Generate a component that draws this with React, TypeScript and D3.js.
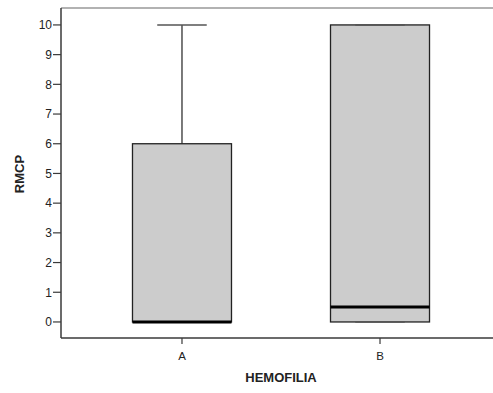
import React from "react";
import * as d3 from "d3";

// Box-plot summary per hemophilia group
const categories = ["A", "B"];
const minValues = [0, 0];
const q1Values = [0, 0];
const medianValues = [0, 0.5];
const q3Values = [6, 10];
const maxValues = [10, 10];
const yTicks = [0, 1, 2, 3, 4, 5, 6, 7, 8, 9, 10];

const W = 493;
const H = 393;
const left = 61;
const top = 8;
const bottom = 338;
const rightEdge = 501;

export default function App() {
  const y = d3.scaleLinear().domain([-0.54, 10.57]).range([bottom, top]);
  const x = d3.scalePoint<string>().domain(categories).range([left, rightEdge]).padding(0.611);
  const step = x.step();
  const boxW = step * 0.5;
  const capW = boxW * 0.5;
  const font = "'Liberation Sans', Arial, sans-serif";
  const axisColor = "#3a3a3a";

  return (
    <svg width={W} height={H} style={{ position: "absolute", left: 0, top: 0, background: "#fff" }}>
      {/* frame */}
      <line x1={left} x2={W} y1={top} y2={top} stroke="#999" strokeWidth={1.5} />
      <line x1={left} x2={left} y1={top} y2={bottom} stroke={axisColor} strokeWidth={1.5} />
      <line x1={left} x2={W} y1={bottom} y2={bottom} stroke={axisColor} strokeWidth={1.5} />

      {/* y axis ticks */}
      {yTicks.map((t) => (
        <g key={t}>
          <line x1={left - 8} x2={left} y1={y(t)} y2={y(t)} stroke={axisColor} strokeWidth={1.2} />
          <text x={left - 9} y={y(t)} dy="0.36em" textAnchor="end" fontFamily={font} fontSize={12} fill="#222">
            {t}
          </text>
        </g>
      ))}

      {/* x axis ticks */}
      {categories.map((c) => (
        <g key={c}>
          <line x1={x(c)} x2={x(c)} y1={bottom} y2={bottom + 6} stroke={axisColor} strokeWidth={1.2} />
          <text x={x(c)} y={360} textAnchor="middle" fontFamily={font} fontSize={11.5} fill="#222">
            {c}
          </text>
        </g>
      ))}

      {/* boxes */}
      {categories.map((c, i) => {
        const cx = x(c) as number;
        return (
          <g key={c}>
            <line x1={cx} x2={cx} y1={y(maxValues[i])} y2={y(q3Values[i])} stroke="#222" strokeWidth={1.2} />
            <line x1={cx} x2={cx} y1={y(minValues[i])} y2={y(q1Values[i])} stroke="#222" strokeWidth={1.2} />
            <rect
              x={cx - boxW / 2}
              y={y(q3Values[i])}
              width={boxW}
              height={y(q1Values[i]) - y(q3Values[i])}
              fill="#cccccc"
              stroke="#222"
              strokeWidth={1.3}
            />
            <line x1={cx - capW / 2} x2={cx + capW / 2} y1={y(maxValues[i])} y2={y(maxValues[i])} stroke="#555" strokeWidth={1.5} />
            <line x1={cx - capW / 2} x2={cx + capW / 2} y1={y(minValues[i])} y2={y(minValues[i])} stroke="#555" strokeWidth={1.5} />
            <line
              x1={cx - boxW / 2}
              x2={cx + boxW / 2}
              y1={y(medianValues[i])}
              y2={y(medianValues[i])}
              stroke="#000"
              strokeWidth={3}
            />
          </g>
        );
      })}

      {/* axis titles */}
      <text
        transform={`translate(24, 174) rotate(-90)`}
        textAnchor="middle"
        fontFamily={font}
        fontWeight="bold"
        fontSize={13}
        fill="#222"
      >
        RMCP
      </text>
      <text x={281} y={382} textAnchor="middle" fontFamily={font} fontWeight="bold" fontSize={13} fill="#222">
        HEMOFILIA
      </text>
    </svg>
  );
}
